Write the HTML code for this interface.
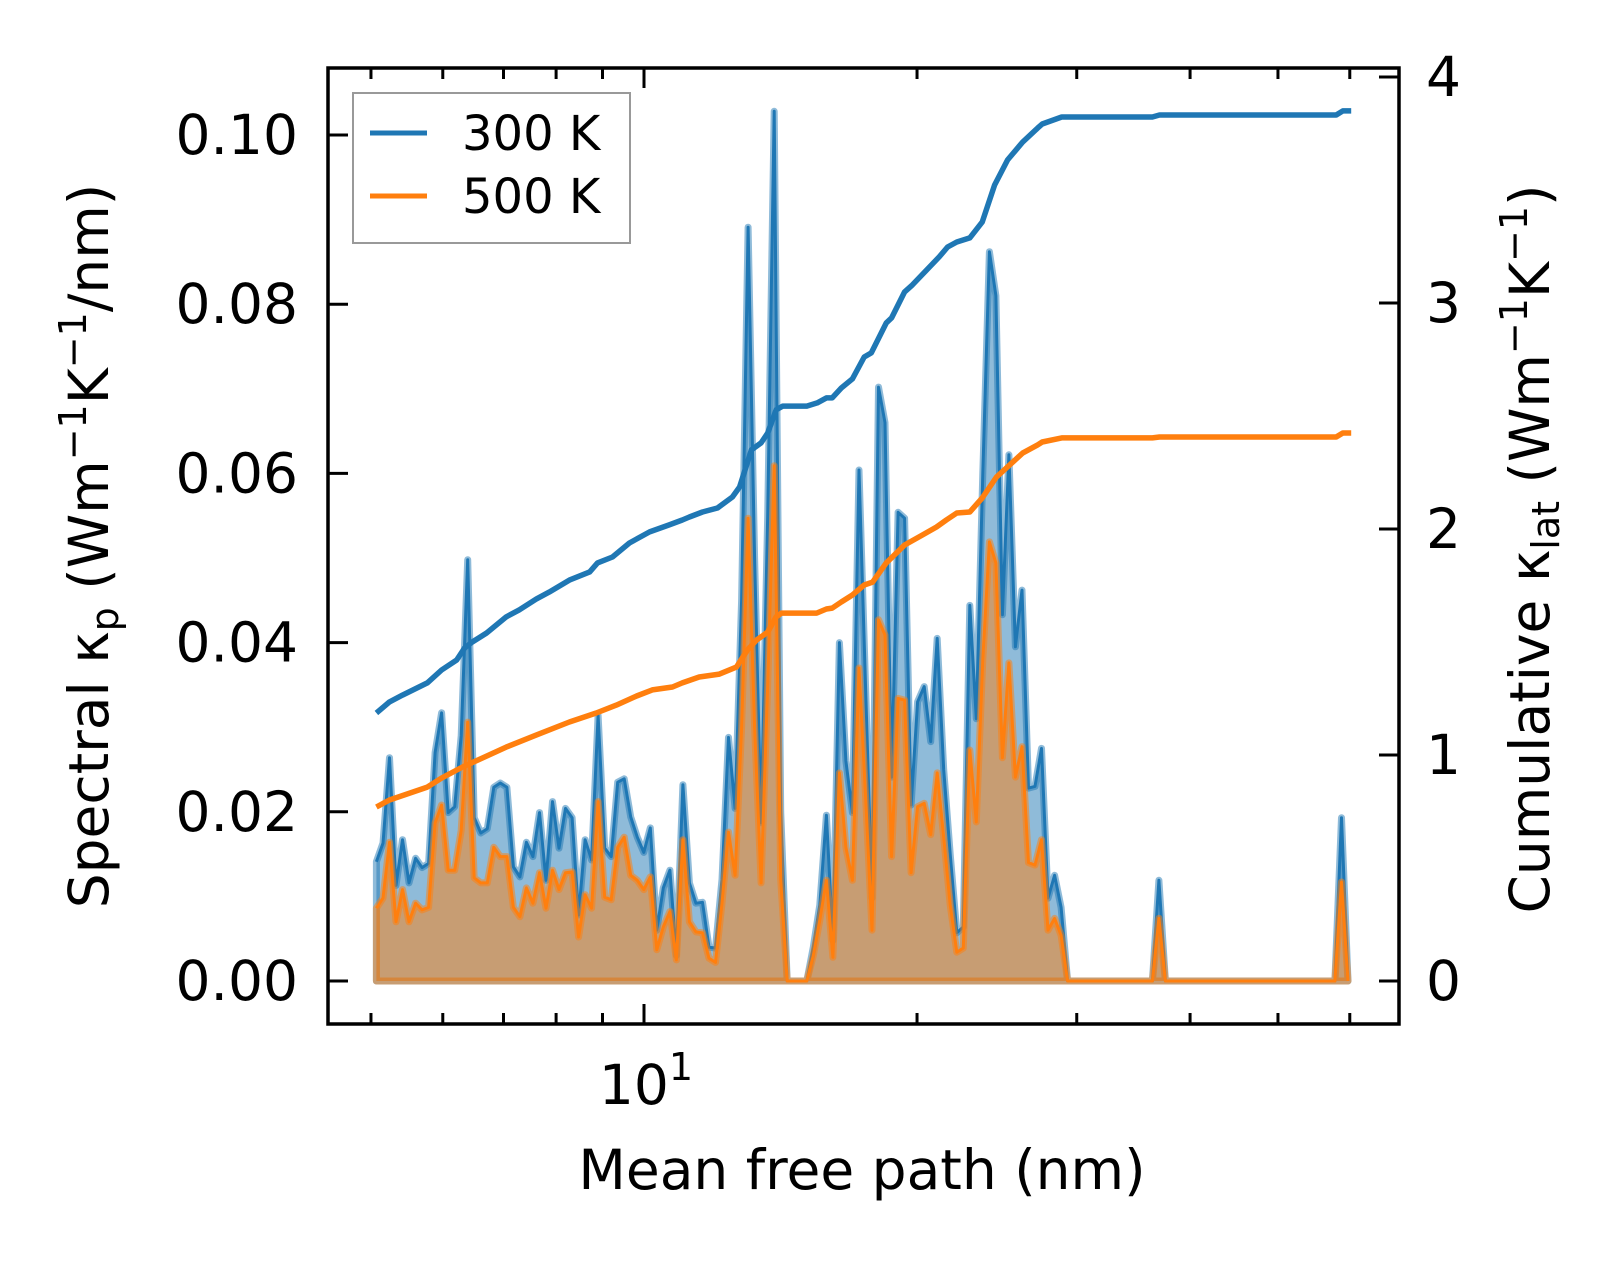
<!DOCTYPE html>
<html><head><meta charset="utf-8">
<style>
html,body{margin:0;padding:0;background:#fff;}
svg{display:block;font-family:"DejaVu Sans","Liberation Sans",sans-serif;}
</style></head>
<body>
<svg id="chart" width="1623" height="1261" viewBox="0 0 1623 1261" xmlns="http://www.w3.org/2000/svg">
<rect width="1623" height="1261" fill="#fff"/>
<g id="marks"></g>
<g id="axes"></g>
</svg>
<script>
// ---- data ----
const binCount = 150;
const mfpStartNm = 5.07;
const binLogStep = 0.007189;
const spectral300 = [0.0141,0.0163,0.0264,0.0113,0.0167,0.0116,0.0145,0.0134,0.0139,0.027,
0.0317,0.0199,0.0206,0.029,0.0498,0.0193,0.0175,0.018,0.0229,0.0234,
0.0229,0.0135,0.0123,0.0164,0.0147,0.0199,0.0119,0.0212,0.0157,0.0204,
0.0193,0.0078,0.0167,0.0143,0.0314,0.0157,0.0147,0.0235,0.0239,0.0194,
0.017,0.0152,0.0181,0.006,0.011,0.0131,0.003,0.0232,0.0116,0.0092,
0.0093,0.004,0.0039,0.012,0.0288,0.0204,0.045,0.0891,0.05,0.0187,
0.055,0.1028,0.02,0,0,0,0,0.004,0.009,0.0196,
0.0048,0.040,0.026,0.0199,0.0604,0.035,0.0098,0.0702,0.066,0.0241,
0.0554,0.0547,0.0208,0.033,0.0348,0.0283,0.0405,0.025,0.015,0.0057,
0.0064,0.0444,0.031,0.06,0.0862,0.081,0.0433,0.0622,0.0395,0.0462,
0.0228,0.023,0.0275,0.0098,0.0125,0.0087,0,0,0,0,
0,0,0,0,0,0,0,0,0,0,
0.0119,0,0,0,0,0,0,0,0,0,
0,0,0,0,0,0,0,0,0,0,
0,0,0,0,0,0,0,0,0.0193,0];
const spectral500 = [0.0086,0.0098,0.0164,0.007,0.0108,0.007,0.0092,0.0084,0.0087,0.0187,
0.0208,0.0131,0.0131,0.0178,0.0306,0.0122,0.0116,0.0116,0.0158,0.0147,
0.0147,0.0087,0.0076,0.011,0.0092,0.0128,0.0086,0.0131,0.0108,0.0128,
0.0129,0.0052,0.0102,0.0086,0.0212,0.0099,0.0096,0.0158,0.017,0.0125,
0.0119,0.0108,0.0123,0.0037,0.0064,0.0082,0.0025,0.0167,0.007,0.0058,
0.0057,0.0027,0.0022,0.0092,0.0176,0.0125,0.03,0.0547,0.03,0.0116,
0.035,0.0609,0.012,0,0,0,0,0.003,0.0072,0.0119,
0.0028,0.0246,0.0158,0.0119,0.037,0.022,0.006,0.0427,0.0409,0.0147,
0.0334,0.0332,0.0128,0.0206,0.021,0.0173,0.0246,0.017,0.009,0.0034,
0.0039,0.0273,0.0188,0.038,0.0519,0.0494,0.0264,0.0376,0.0241,0.0277,
0.014,0.0137,0.0167,0.006,0.0074,0.0054,0,0,0,0,
0,0,0,0,0,0,0,0,0,0,
0.0074,0,0,0,0,0,0,0,0,0,
0,0,0,0,0,0,0,0,0,0,
0,0,0,0,0,0,0,0,0.0117,0];
const cum300Bins = [0,2,4,7.8,10,12.3,13.5,14.7,16.9,19.9,21.9,24.5,26.5,29.6,32.7,33.9,36.2,38.8,41.9,44.9,46.9,48,50,52.3,54.6,55.7,57.5,59,60,61.3,62.3,66,67.6,69,69.9,71.3,73,74.8,75.9,78.2,79,81,82.2,84.8,86.3,87.6,89,91,92.9,94.8,96.8,99.1,101.4,102.1,105.1,119,120.1,147.2,148.2,149.5];
const cum300 = [1.186,1.235,1.265,1.319,1.376,1.42,1.473,1.5,1.54,1.611,1.642,1.69,1.721,1.774,1.81,1.85,1.876,1.938,1.987,2.018,2.04,2.053,2.075,2.093,2.142,2.186,2.35,2.381,2.425,2.527,2.544,2.544,2.558,2.58,2.58,2.624,2.664,2.761,2.779,2.912,2.934,3.049,3.08,3.159,3.204,3.248,3.27,3.288,3.358,3.522,3.633,3.712,3.774,3.792,3.823,3.823,3.832,3.832,3.85,3.85];
const cum500Bins = [0,2,7.8,10,13.2,16.3,19.9,24.5,29.6,33.7,36.8,39.9,42.3,45.4,46.9,49.5,52.6,55.2,56.9,58.3,60,61.3,62.1,67.5,69,69.9,71.3,73,74.8,76.1,78.2,81,83.7,85.9,87.4,89,91,92.9,95.1,97.1,99.1,101.4,102.1,105.1,119,120.1,147.2,148.2,149.5];
const cum500 = [0.77,0.801,0.858,0.898,0.947,0.987,1.035,1.088,1.146,1.186,1.221,1.261,1.288,1.301,1.319,1.345,1.358,1.389,1.465,1.509,1.544,1.611,1.628,1.628,1.646,1.65,1.677,1.708,1.752,1.765,1.85,1.929,1.973,2.009,2.04,2.071,2.075,2.137,2.23,2.283,2.336,2.372,2.385,2.403,2.403,2.407,2.407,2.425,2.425];
const leftTicks = [0,0.02,0.04,0.06,0.08,0.10];
const leftTickLabels = ["0.00","0.02","0.04","0.06","0.08","0.10"];
const rightTicks = [0,1,2,3,4];
const minorXTicks = [5,6,7,8,9,20,30,40,50,60];

// ---- scales ----
const L=328,R=1399,T=68,B=1024;
function X(nm){return 644+907*Math.log10(nm/10);}
function binToNm(b){return mfpStartNm*Math.pow(10,b*binLogStep);}
function YL(v){return 981-v*8460;}
function YR(v){return 981-v*226;}
const NS="http://www.w3.org/2000/svg";
const marks=document.getElementById('marks');
const axes=document.getElementById('axes');
function mk(tag,attrs,parent){const e=document.createElementNS(NS,tag);for(const k in attrs)e.setAttribute(k,attrs[k]);parent.appendChild(e);return e;}

function drawSpectral(vals,color,name){
  let pts=[];
  for(let i=0;i<binCount;i++){pts.push(X(binToNm(i)).toFixed(1)+','+YL(vals[i]).toFixed(1));}
  const x0=X(binToNm(0)).toFixed(1), x1=X(binToNm(binCount-1)).toFixed(1);
  const poly=mk('polygon',{points:x0+','+YL(0)+' '+pts.join(' ')+' '+x1+','+YL(0),fill:color,'fill-opacity':0.5,stroke:color,'stroke-opacity':0.5,'stroke-width':7,'stroke-linejoin':'round'},marks);
  
  
  const line=mk('polyline',{points:pts.join(' '),fill:'none',stroke:color,'stroke-width':3,'stroke-linejoin':'round'},marks);
  
  
}
drawSpectral(spectral300,'#1f77b4','spectral-300k');
drawSpectral(spectral500,'#ff7f0e','spectral-500k');

function drawCum(bins,vals,color,name){
  const pts=bins.map((b,i)=>X(binToNm(b)).toFixed(1)+','+YR(vals[i]).toFixed(1));
  const l=mk('polyline',{points:pts.join(' '),fill:'none',stroke:color,'stroke-width':5.5,'stroke-linejoin':'round'},marks);
  
  
}
drawCum(cum300Bins,cum300,'#1f77b4','cumulative-300k-line');
drawCum(cum500Bins,cum500,'#ff7f0e','cumulative-500k-line');

// ---- axes ----
const frame=mk('rect',{x:L,y:T,width:R-L,height:B-T,fill:'none',stroke:'#000','stroke-width':3.5},axes);


leftTicks.forEach((v,i)=>{
  const y=YL(v);
  mk('line',{x1:L,x2:L+20,y1:y,y2:y,stroke:'#000','stroke-width':3},axes);
  const t=mk('text',{x:298,y:y+19,'text-anchor':'end','font-size':55,fill:'#000'},axes);
  t.textContent=leftTickLabels[i];
  
  
});
rightTicks.forEach(v=>{
  const y=YR(v);
  mk('line',{x1:R-20,x2:R,y1:y,y2:y,stroke:'#000','stroke-width':3},axes);
  const t=mk('text',{x:1426,y:y+19,'font-size':55,fill:'#000'},axes);
  t.textContent=String(v);
  
  
});
minorXTicks.forEach(v=>{
  const x=X(v);
  mk('line',{x1:x,x2:x,y1:B,y2:B-11,stroke:'#000','stroke-width':3},axes);
  mk('line',{x1:x,x2:x,y1:T,y2:T+11,stroke:'#000','stroke-width':3},axes);
});
mk('line',{x1:X(10),x2:X(10),y1:B,y2:B-20,stroke:'#000','stroke-width':3},axes);
mk('line',{x1:X(10),x2:X(10),y1:T,y2:T+20,stroke:'#000','stroke-width':3},axes);
</script>
<svg style="position:absolute;left:0;top:0" width="1623" height="1261" viewBox="0 0 1623 1261" xmlns="http://www.w3.org/2000/svg" font-family="DejaVu Sans, Liberation Sans, sans-serif">
<text x="646" y="1104" font-size="55" text-anchor="middle">10<tspan font-size="38" dy="-24">1</tspan></text>
<text x="862" y="1189" font-size="55" text-anchor="middle">Mean free path (nm)</text>
<text transform="translate(108,546) rotate(-90)" font-size="55" text-anchor="middle">Spectral κ<tspan font-size="38" dy="10">p</tspan><tspan dy="-10"> (Wm</tspan><tspan font-size="38" dy="-22">−1</tspan><tspan dy="22">K</tspan><tspan font-size="38" dy="-22">−1</tspan><tspan dy="22">/nm)</tspan></text>
<text transform="translate(1549,549) rotate(-90)" font-size="55" text-anchor="middle">Cumulative κ<tspan font-size="38" dy="10">lat</tspan><tspan dy="-10"> (Wm</tspan><tspan font-size="38" dy="-22">−1</tspan><tspan dy="22">K</tspan><tspan font-size="38" dy="-22">−1</tspan><tspan dy="22">)</tspan></text>
<g>
<rect x="353" y="93" width="277" height="150" fill="#fff" fill-opacity="0.8" stroke="#999" stroke-width="2"/>
<line x1="370" x2="427" y1="133" y2="133" stroke="#1f77b4" stroke-width="5"/>
<text x="462" y="150" font-size="48">300 K</text>
<line x1="370" x2="427" y1="196" y2="196" stroke="#ff7f0e" stroke-width="5"/>
<text x="462" y="213" font-size="48">500 K</text>
</g>
</svg>
</body></html>
